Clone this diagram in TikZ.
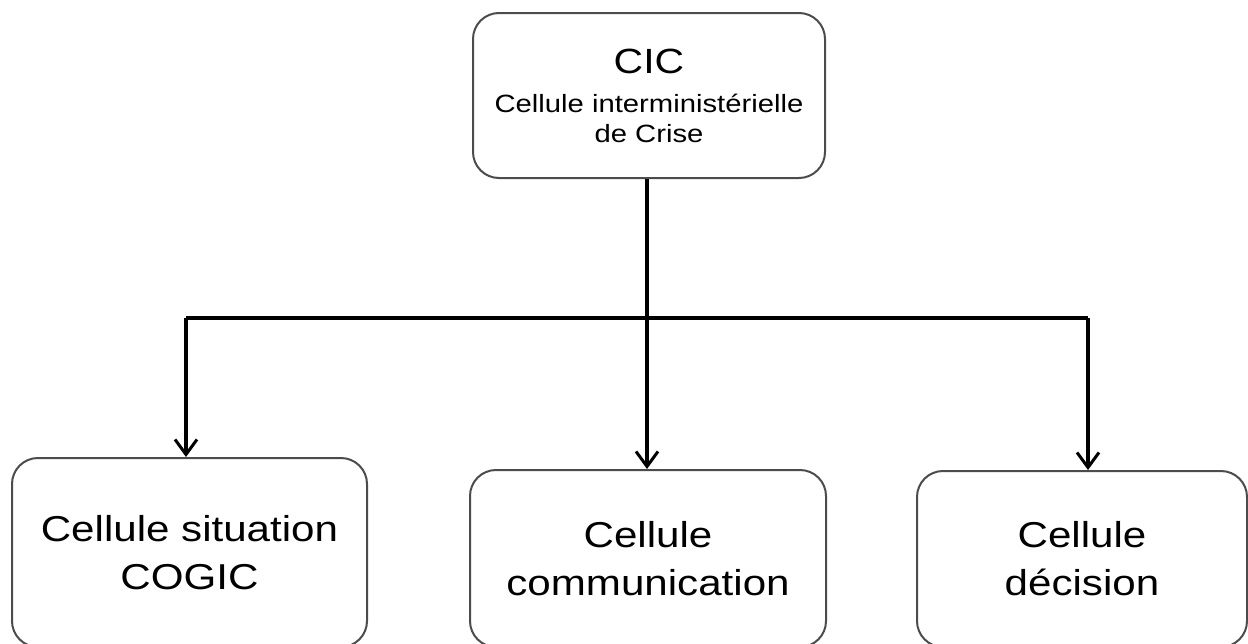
\documentclass[tikz,border=0pt]{standalone}
\usepackage{fontspec}
\setmainfont{Liberation Sans}[FakeStretch=1.17]
\usetikzlibrary{arrows.meta}
\tikzset{
  cellbox/.style={draw=black!70, line width=2pt, fill=white, rounded corners=26pt,
    align=center, inner sep=0pt},
  bigtext/.style={font=\fontsize{36}{48}\selectfont},
  link/.style={draw=black, line width=3.5pt},
  linkarrow/.style={link, -{Straight Barb[length=15pt,width=22pt,line width=3pt]}}
}
\begin{document}
\begin{tikzpicture}[x=1pt,y=-1pt]
\useasboundingbox (0,0) rectangle (1248,643);
\clip (0,0) rectangle (1248,643);
\fill[white] (0,0) rectangle (1248,643);
% boxes
\node[cellbox, minimum width=352pt, minimum height=165pt,
  font=\fontsize{25}{30}\selectfont] (cic) at (649,95.5)
  {{\fontsize{35}{40}\selectfont CIC}\\[9pt]Cellule interministérielle\\de Crise};
\node[cellbox, bigtext, minimum width=355pt, minimum height=189pt] (sit) at (189.5,552.5)
  {Cellule situation\\COGIC};
\node[cellbox, bigtext, minimum width=356pt, minimum height=177pt] (com) at (648,558.5)
  {Cellule\\communication};
\node[cellbox, bigtext, minimum width=330pt, minimum height=176pt] (dec) at (1082,559)
  {Cellule\\décision};
% connectors
\coordinate (j) at (647,318);
\coordinate (jl) at (186,318);
\coordinate (jr) at (1088,318);
\draw[link] (cic.south -| j) -- (j);
\draw[link] (jl) -- (jr);
\draw[linkarrow, line cap=butt] ([xshift=-1.75pt]jl) ++(1.75pt,0) -- (jl |- sit.north);
\draw[linkarrow] (j) -- (j |- com.north);
\draw[linkarrow] (jr) -- (jr |- dec.north);
\end{tikzpicture}
\end{document}
